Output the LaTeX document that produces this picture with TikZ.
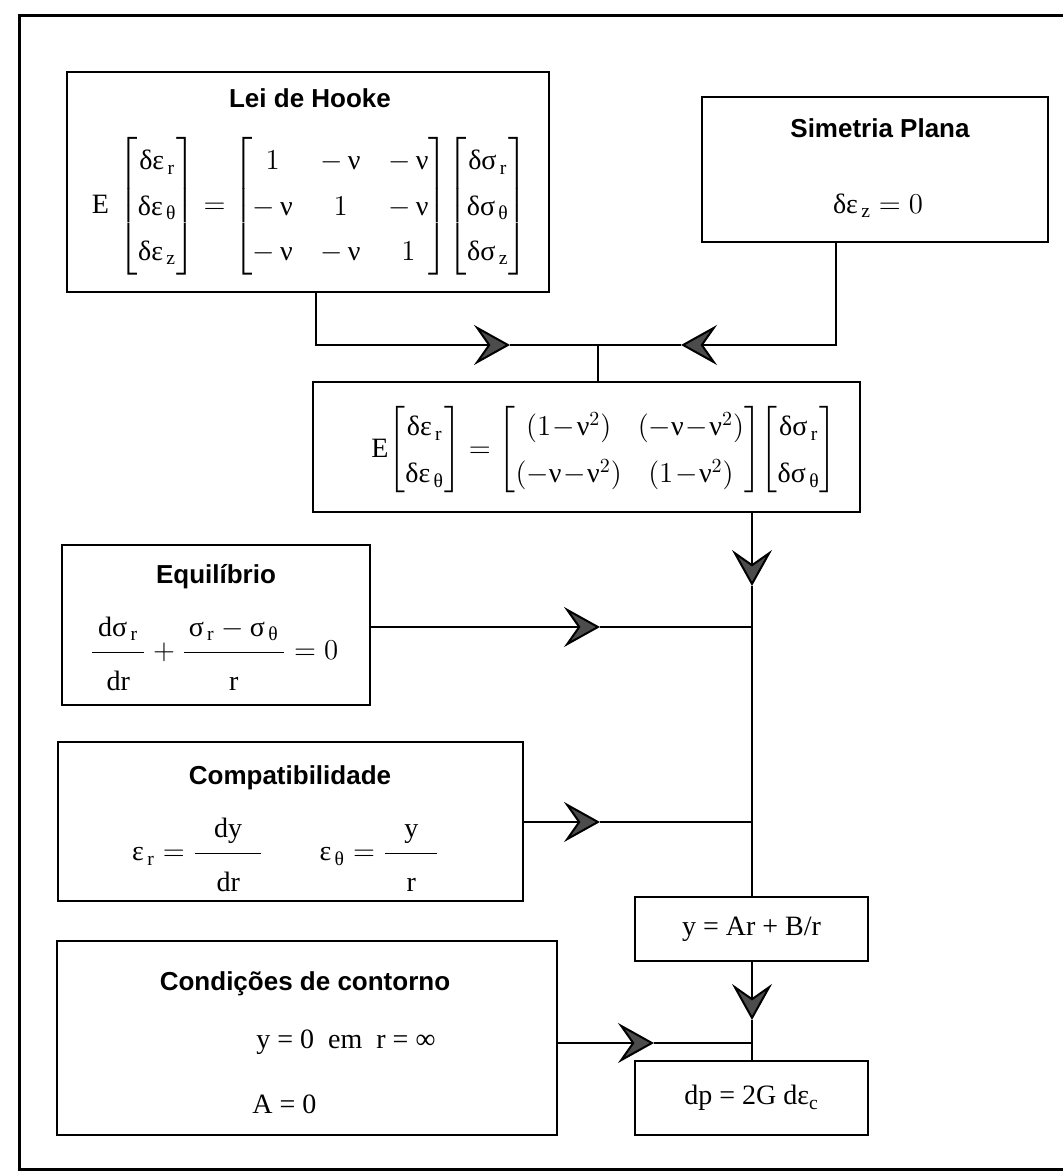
\documentclass[tikz,border=0pt]{standalone}
\usepackage{amsmath}
\usepackage{fontspec}
\setmainfont{Liberation Serif}
\setsansfont{Liberation Sans}
\usetikzlibrary{arrows.meta}
\newcommand{\de}{\text{δε}}
\newcommand{\ds}{\text{δσ}}
\newcommand{\gn}{\text{ν}}
\newcommand{\sub}[1]{_{\,\text{#1}}}
\newcommand{\fr}[3]{\dfrac{\makebox[#1]{$#2$}\rule[-6pt]{0pt}{0pt}}{\rule{0pt}{17pt}#3}}
\tikzset{
  box/.style={draw, line width=1.2pt, inner sep=0pt},
  titulo/.style={font=\sffamily\bfseries\fontsize{13}{15.6}\selectfont},
  eqn/.style={font=\fontsize{14}{16.8}\selectfont, inner sep=0pt},
  liga/.style={line width=1pt},
  seta/.style={liga, -{Stealth[length=18pt, width=20pt, inset=7pt, fill=black!70]}}
}

\begin{document}
\begin{tikzpicture} [x=0.5pt, y=-0.5pt]
\useasboundingbox (0,0) rectangle (1063,1176);
\clip (0,0) rectangle (1063,1176);
\draw[line width=1.5pt] (1080,16) -| (19,1169) -- (1080,1169);

\node[box, minimum width=241pt, minimum height=110pt] (hooke) at (308,182) {};
\node[titulo] (thooke) at (310,98) {Lei de Hooke};
\node[eqn] (ehooke) at (310,206) {\renewcommand{\arraystretch}{1.35}\setlength{\arraycolsep}{7pt}%
 $\text{E}\,\begin{bmatrix}\de\sub{r}\\ \de\sub{θ}\\ \de\sub{z}\end{bmatrix}
 =\begin{bmatrix}1 & -\,\gn & -\,\gn\\ -\,\gn & 1 & -\,\gn\\ -\,\gn & -\,\gn & 1\end{bmatrix}\!
 \begin{bmatrix}\ds\sub{r}\\ \ds\sub{θ}\\ \ds\sub{z}\end{bmatrix}$};

\node[box, minimum width=173pt, minimum height=72.5pt] (sim) at (875,169.5) {};
\node[titulo] (tsim) at (880,128) {Simetria Plana};
\node[eqn] (esim) at (878,206) {$\de\sub{z} = 0$};

\node[box, minimum width=273.5pt, minimum height=65pt] (red) at (586.5,447) {};
\node[eqn] (ered) at (604,450) {\renewcommand{\arraystretch}{1.4}\setlength{\arraycolsep}{4pt}%
 $\text{E}\!\begin{bmatrix}\de\sub{r}\\ \de\sub{θ}\end{bmatrix}
 =\begin{bmatrix}(1\!-\!\gn^2) & (-\gn\!-\!\gn^2)\\ (-\gn\!-\!\gn^2) & (1\!-\!\gn^2)\end{bmatrix}\!
 \begin{bmatrix}\ds\sub{r}\\ \ds\sub{θ}\end{bmatrix}$};

\node[box, minimum width=154pt, minimum height=80pt] (equil) at (216,625) {};
\node[titulo] (tequil) at (216,577) {Equilíbrio};
\node[eqn] (eequil) at (214,654) {$\fr{26pt}{\text{dσ}\sub{r}}{\text{dr}}
 + \fr{50pt}{\text{σ}\sub{r} - \text{σ}\sub{θ}}{\text{r}} = 0$};

\node[box, minimum width=232.5pt, minimum height=79.5pt] (compat) at (290.5,821.5) {};
\node[titulo] (tcompat) at (290,778) {Compatibilidade};
\node[eqn] (ecompat) at (286,855) {$\text{ε}\sub{r} = \fr{33pt}{\text{dy}}{\text{dr}}
 \qquad \text{ε}\sub{θ} = \fr{26pt}{\text{y}}{\text{r}}$};

\node[box, eqn, minimum width=116.5pt, minimum height=32pt] (yar) at (751.5,929) {y = Ar + B/r};

\node[box, minimum width=250pt, minimum height=97pt] (cond) at (307,1038) {};
\node[titulo] (tcond) at (305,984) {Condições de contorno};
\node[eqn, anchor=west] (econd) at (256,1042) {y = 0\enspace em\enspace r = ∞};
\node[eqn, anchor=west] (acond) at (252,1104) {A = 0};

\node[box, eqn, minimum width=116.5pt, minimum height=37pt] (dp) at (751.5,1098) {dp = 2G dε\textsubscript{c}};

\coordinate (jn) at (598,345);
\coordinate (pa) at (510,345);
\coordinate (pb) at (681,345);
\draw[seta] ([xshift=4pt]hooke.south) |- (pa);
\draw[liga] (pa) -- (jn);
\draw[seta] ([xshift=-19.5pt]sim.south) |- (pb);
\draw[liga] (pb) -- (jn);
\draw[liga] (jn) -- (jn |- red.north);

\coordinate (pc) at (752,586);
\draw[seta] (red.south -| pc) -- (pc);
\draw[liga] (pc) -- (pc |- yar.north);
\coordinate (pe) at (600,627);
\draw[seta] (equil.east |- pe) -- (pe);
\draw[liga] (pe) -- (pe -| pc);
\coordinate (pf) at (600,822);
\draw[seta] (compat.east |- pf) -- (pf);
\draw[liga] (pf) -- (pf -| pc);

\coordinate (pg) at (752,1020);
\draw[seta] (pg |- yar.south) -- (pg);
\draw[liga] (pg) -- (pg |- dp.north);
\coordinate (ph) at (654,1043);
\draw[seta] (cond.east |- ph) -- (ph);
\draw[liga] (ph) -- (ph -| pg);
\end{tikzpicture}
\end{document}
